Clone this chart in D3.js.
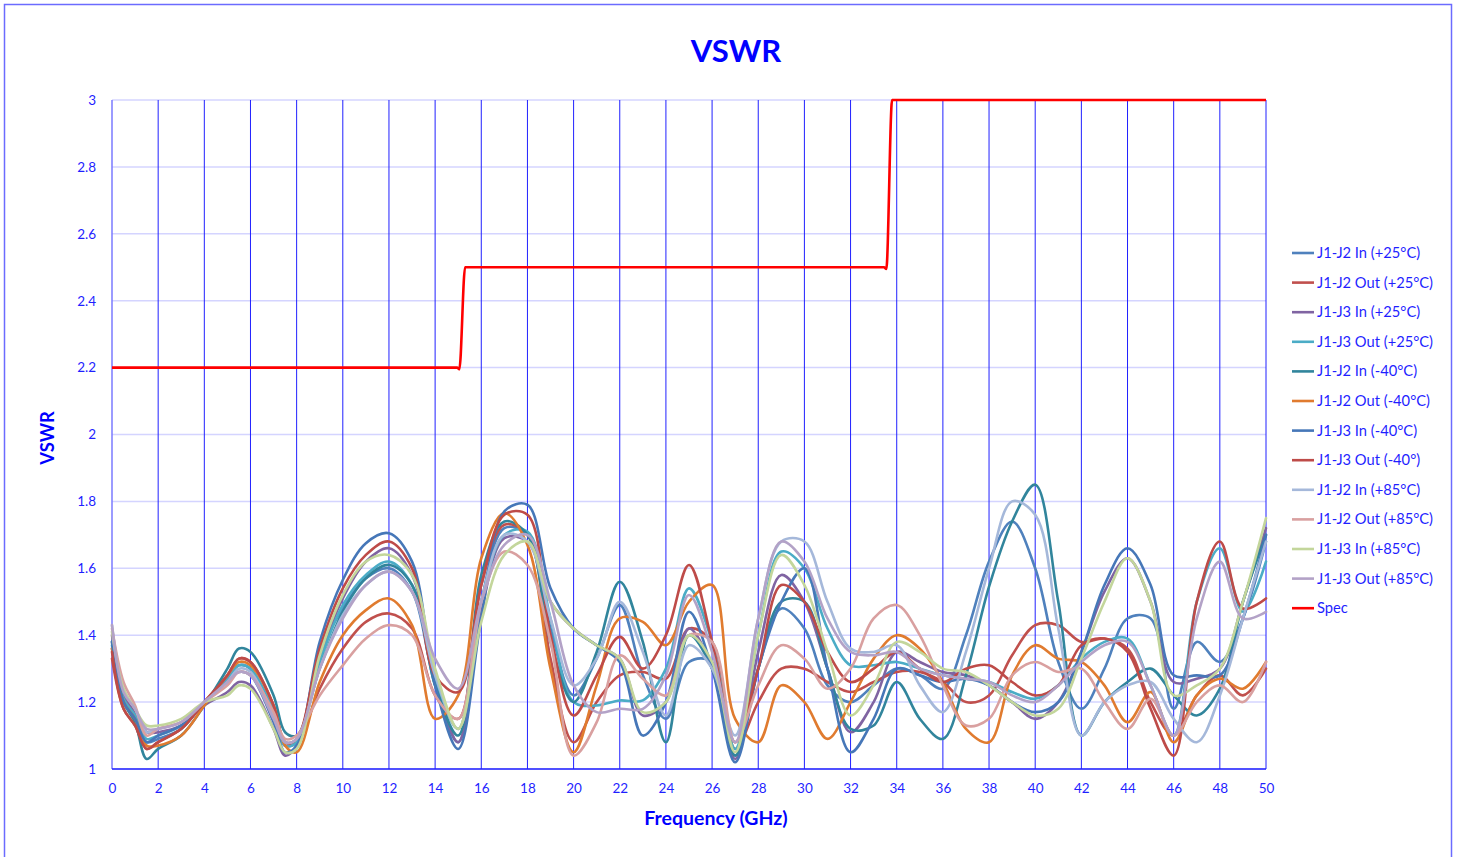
<!DOCTYPE html>
<html>
<head>
<meta charset="utf-8">
<script src="https://cdn.jsdelivr.net/npm/d3@7"></script>
<style>
  html, body { margin: 0; padding: 0; background: #ffffff; }
  svg { display: block; font-family: Lato, "Open Sans", "Liberation Sans", sans-serif; }
</style>
</head>
<body>
<svg id="chart" width="1458" height="857"></svg>
<script>
// Frequency grid (GHz) shared by all measured traces
const freq = [0, 0.5, 1, 1.5, 2, 3, 4, 5, 5.5, 6, 7, 7.5, 8,
  9, 10, 11, 12, 13, 14, 15, 16, 17, 18, 19, 20, 21, 22, 23, 24, 25, 26, 27, 28, 29, 30,
  31, 32, 33, 34, 35, 36, 37, 38, 39, 40, 41, 42, 43, 44, 45, 46, 47, 48, 49, 50];

const j1j2In25 = [1.36,1.2,1.15,1.08,1.09,1.12,1.2,1.27,1.31,1.30,1.17,1.07,1.08,
  1.35,1.48,1.57,1.60,1.53,1.25,1.08,1.5,1.72,1.70,1.42,1.22,1.33,1.49,1.28,1.15,1.32,1.32,1.04,1.3,1.48,1.42,
  1.25,1.2,1.25,1.3,1.28,1.24,1.4,1.62,1.74,1.6,1.32,1.18,1.3,1.45,1.45,1.18,1.38,1.32,1.45,1.68];
const j1j2Out25 = [1.33,1.18,1.13,1.06,1.08,1.12,1.2,1.28,1.33,1.32,1.19,1.08,1.08,
  1.24,1.36,1.44,1.465,1.42,1.22,1.15,1.55,1.73,1.70,1.33,1.08,1.2,1.28,1.29,1.27,1.42,1.38,1.06,1.2,1.3,1.3,
  1.26,1.23,1.26,1.29,1.29,1.26,1.2,1.22,1.34,1.43,1.43,1.38,1.39,1.36,1.2,1.1,1.22,1.28,1.22,1.3];
const j1j3In25 = [1.4,1.22,1.17,1.11,1.11,1.13,1.19,1.23,1.26,1.25,1.12,1.04,1.07,
  1.33,1.51,1.62,1.66,1.58,1.28,1.08,1.47,1.69,1.68,1.5,1.42,1.37,1.33,1.16,1.2,1.42,1.3,1.03,1.35,1.58,1.5,
  1.3,1.11,1.2,1.35,1.32,1.29,1.28,1.25,1.2,1.15,1.2,1.35,1.53,1.63,1.5,1.26,1.27,1.3,1.5,1.72];
const j1j3Out25 = [1.37,1.21,1.16,1.09,1.1,1.13,1.2,1.27,1.31,1.30,1.17,1.07,1.08,
  1.32,1.49,1.58,1.62,1.55,1.27,1.12,1.5,1.70,1.71,1.45,1.2,1.19,1.205,1.205,1.3,1.54,1.38,1.06,1.4,1.65,1.6,
  1.42,1.31,1.31,1.32,1.3,1.28,1.27,1.26,1.23,1.21,1.25,1.33,1.38,1.39,1.25,1.1,1.5,1.66,1.47,1.62];
const j1j2InM40 = [1.38,1.2,1.14,1.03,1.06,1.1,1.19,1.30,1.36,1.35,1.22,1.11,1.1,
  1.3,1.47,1.57,1.61,1.55,1.25,1.1,1.58,1.74,1.70,1.38,1.2,1.35,1.56,1.38,1.08,1.4,1.3,1.04,1.3,1.5,1.5,
  1.3,1.12,1.13,1.26,1.15,1.09,1.28,1.545,1.74,1.85,1.5,1.1,1.2,1.26,1.3,1.22,1.16,1.24,1.5,1.7];
const j1j2OutM40 = [1.36,1.2,1.15,1.07,1.07,1.1,1.19,1.28,1.32,1.31,1.19,1.07,1.05,
  1.26,1.4,1.475,1.51,1.43,1.15,1.22,1.63,1.765,1.67,1.3,1.05,1.25,1.45,1.44,1.37,1.5,1.55,1.15,1.08,1.25,1.2,
  1.09,1.2,1.33,1.4,1.36,1.26,1.12,1.08,1.28,1.37,1.33,1.32,1.25,1.14,1.23,1.08,1.22,1.27,1.24,1.32];
const j1j3InM40 = [1.38,1.2,1.15,1.08,1.1,1.13,1.2,1.26,1.29,1.28,1.14,1.05,1.07,
  1.38,1.565,1.675,1.705,1.62,1.25,1.06,1.45,1.77,1.79,1.54,1.42,1.37,1.32,1.1,1.2,1.47,1.3,1.02,1.3,1.5,1.6,
  1.3,1.05,1.15,1.3,1.28,1.26,1.27,1.25,1.2,1.17,1.2,1.35,1.55,1.66,1.55,1.28,1.28,1.28,1.45,1.7];
const j1j3OutM40 = [1.35,1.18,1.13,1.06,1.08,1.12,1.2,1.28,1.33,1.32,1.19,1.08,1.09,
  1.36,1.54,1.64,1.68,1.6,1.28,1.23,1.55,1.76,1.76,1.4,1.16,1.28,1.395,1.3,1.4,1.61,1.38,1.08,1.3,1.55,1.5,
  1.35,1.26,1.3,1.35,1.3,1.26,1.3,1.31,1.26,1.22,1.25,1.37,1.39,1.35,1.18,1.04,1.5,1.68,1.48,1.51];
const j1j2In85 = [1.43,1.24,1.18,1.11,1.12,1.14,1.2,1.26,1.30,1.29,1.16,1.08,1.09,
  1.3,1.46,1.55,1.59,1.53,1.28,1.12,1.5,1.70,1.68,1.45,1.25,1.33,1.50,1.35,1.16,1.37,1.3,1.1,1.45,1.68,1.68,
  1.5,1.36,1.35,1.37,1.25,1.17,1.35,1.6,1.8,1.76,1.42,1.1,1.2,1.25,1.26,1.15,1.08,1.22,1.45,1.68];
const j1j2Out85 = [1.42,1.26,1.19,1.1,1.12,1.14,1.2,1.25,1.29,1.28,1.17,1.09,1.1,
  1.22,1.31,1.39,1.43,1.4,1.22,1.15,1.5,1.65,1.61,1.38,1.04,1.14,1.34,1.27,1.22,1.4,1.38,1.08,1.25,1.37,1.33,
  1.24,1.3,1.45,1.49,1.4,1.25,1.13,1.15,1.28,1.32,1.29,1.3,1.2,1.12,1.21,1.1,1.2,1.25,1.2,1.32];
const j1j3In85 = [1.41,1.24,1.18,1.13,1.13,1.15,1.2,1.22,1.25,1.24,1.12,1.05,1.06,
  1.34,1.52,1.62,1.64,1.58,1.3,1.12,1.44,1.64,1.68,1.5,1.42,1.37,1.33,1.17,1.2,1.40,1.32,1.05,1.4,1.64,1.55,
  1.35,1.16,1.25,1.38,1.35,1.3,1.29,1.25,1.2,1.16,1.18,1.33,1.5,1.63,1.5,1.22,1.25,1.3,1.5,1.75];
const j1j3Out85 = [1.43,1.23,1.18,1.12,1.12,1.14,1.2,1.26,1.29,1.28,1.15,1.08,1.09,
  1.3,1.45,1.55,1.59,1.53,1.33,1.24,1.5,1.67,1.70,1.5,1.25,1.17,1.18,1.18,1.28,1.52,1.35,1.08,1.45,1.68,1.62,
  1.45,1.35,1.34,1.35,1.3,1.28,1.27,1.26,1.22,1.2,1.25,1.32,1.37,1.38,1.25,1.1,1.45,1.62,1.45,1.47];

// Specification limit (step mask)
const specFreq  = [0, 14.95, 15.05, 15.3, 33.45, 33.55, 33.8, 50];
const specValue = [2.2, 2.2, 2.195, 2.5, 2.5, 2.495, 3.0, 3.0];

const seriesNames = [
  "J1-J2 In (+25°C)", "J1-J2 Out (+25°C)", "J1-J3 In (+25°C)", "J1-J3 Out (+25°C)",
  "J1-J2 In (-40°C)", "J1-J2 Out (-40°C)", "J1-J3 In (-40°C)", "J1-J3 Out (-40°)",
  "J1-J2 In (+85°C)", "J1-J2 Out (+85°C)", "J1-J3 In (+85°C)", "J1-J3 Out (+85°C)"
];
const seriesValues = [
  j1j2In25, j1j2Out25, j1j3In25, j1j3Out25,
  j1j2InM40, j1j2OutM40, j1j3InM40, j1j3OutM40,
  j1j2In85, j1j2Out85, j1j3In85, j1j3Out85
];
const seriesColors = [
  "#4f81bd", "#c0504d", "#8064a2", "#4bacc6",
  "#31859c", "#e07b2f", "#4677b8", "#be4b48",
  "#a5b8da", "#d9a0a0", "#c3d69b", "#b3a2c7"
];

const xTicks = d3.range(0, 51, 2);
const yTicks = [1, 1.2, 1.4, 1.6, 1.8, 2, 2.2, 2.4, 2.6, 2.8, 3];

const svg = d3.select("#chart");
const plot = { left: 112, right: 1266, top: 100, bottom: 769 };
const x = d3.scaleLinear().domain([0, 50]).range([plot.left, plot.right]);
const y = d3.scaleLinear().domain([1, 3]).range([plot.bottom, plot.top]);
const textBlue = "#1f1fff";

// chart frame
svg.append("rect").attr("x", 4.5).attr("y", 4.5).attr("width", 1447).attr("height", 900)
  .attr("fill", "#ffffff").attr("stroke", "#6b6bff").attr("stroke-width", 1.5);

// title
svg.append("text").attr("x", 736).attr("y", 62).attr("text-anchor", "middle")
  .attr("font-size", 31).attr("font-weight", "bold").attr("fill", "#0000ff").text("VSWR");

// horizontal gridlines
svg.append("g").selectAll("line").data(yTicks).join("line")
  .attr("x1", plot.left).attr("x2", plot.right)
  .attr("y1", d => y(d)).attr("y2", d => y(d))
  .attr("stroke", "#d4d4ff").attr("stroke-width", 1.5);

// vertical gridlines
svg.append("g").selectAll("line").data(xTicks.filter(d => d > 0)).join("line")
  .attr("x1", d => x(d)).attr("x2", d => x(d))
  .attr("y1", plot.top).attr("y2", plot.bottom)
  .attr("stroke", "#2020ff").attr("stroke-width", 1);

// axis lines
svg.append("line").attr("x1", plot.left).attr("x2", plot.left)
  .attr("y1", plot.top).attr("y2", plot.bottom)
  .attr("stroke", "#7a7aff").attr("stroke-width", 1.5);
svg.append("line").attr("x1", plot.left).attr("x2", plot.right)
  .attr("y1", plot.bottom).attr("y2", plot.bottom)
  .attr("stroke", "#2020ff").attr("stroke-width", 1.5);

// tick labels via d3 axes
const xAxis = svg.append("g").attr("transform", `translate(0,${plot.bottom})`)
  .call(d3.axisBottom(x).tickValues(xTicks).tickSize(0).tickPadding(14).tickFormat(d3.format("d")));
xAxis.select(".domain").remove();
xAxis.selectAll("text").attr("font-size", 13.5).attr("fill", textBlue).attr("font-family", "Lato, sans-serif");

const yAxis = svg.append("g").attr("transform", `translate(${plot.left},0)`)
  .call(d3.axisLeft(y).tickValues(yTicks).tickSize(0).tickPadding(16).tickFormat(d => String(+d.toFixed(1))));
yAxis.select(".domain").remove();
yAxis.selectAll("text").attr("font-size", 13.5).attr("fill", textBlue).attr("font-family", "Lato, sans-serif");

// axis titles
svg.append("text").attr("x", 716).attr("y", 825).attr("text-anchor", "middle")
  .attr("font-size", 19.5).attr("font-weight", "bold").attr("fill", "#0000ff").text("Frequency (GHz)");
svg.append("text").attr("transform", "translate(54,438) rotate(-90)").attr("text-anchor", "middle")
  .attr("font-size", 18.4).attr("font-weight", "bold").attr("fill", "#0000ff").text("VSWR");

// measured traces
const smooth = d3.line()
  .x((d, i) => x(freq[i]))
  .y(d => y(d))
  .curve(d3.curveCatmullRom.alpha(0.5));

const traces = svg.append("g").attr("fill", "none").attr("stroke-width", 2.6)
  .attr("stroke-linejoin", "round").attr("stroke-linecap", "round");
seriesValues.forEach((vals, k) => {
  traces.append("path").attr("d", smooth(vals)).attr("stroke", seriesColors[k]);
});

// spec mask
const specLine = d3.line().x((d, i) => x(specFreq[i])).y(d => y(d)).curve(d3.curveMonotoneX);
svg.append("path").attr("d", specLine(specValue)).attr("fill", "none")
  .attr("stroke", "#ff0000").attr("stroke-width", 2.6);

// legend
const legendNames = seriesNames.concat(["Spec"]);
const legendColors = seriesColors.concat(["#ff0000"]);
const legend = svg.append("g");
legendNames.forEach((name, i) => {
  const ly = 253 + i * 29.6;
  legend.append("line").attr("x1", 1292).attr("x2", 1314).attr("y1", ly).attr("y2", ly)
    .attr("stroke", legendColors[i]).attr("stroke-width", 2.6);
  legend.append("text").attr("x", 1317).attr("y", ly + 5).attr("font-size", 14.7)
    .attr("fill", textBlue).text(name);
});
</script>
</body>
</html>
